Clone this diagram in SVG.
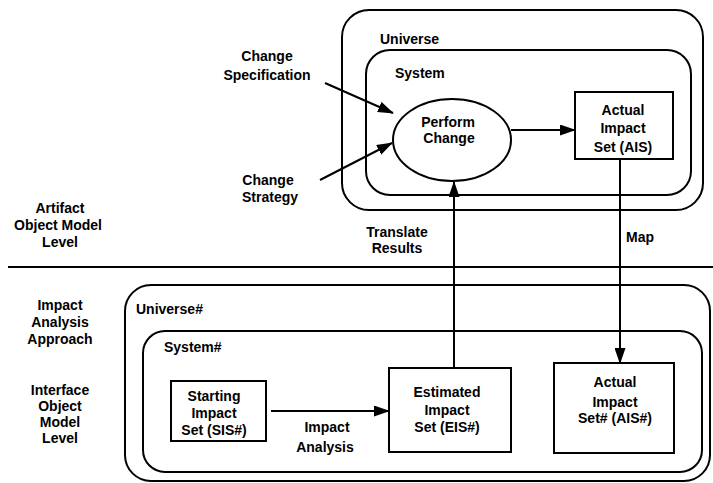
<svg xmlns="http://www.w3.org/2000/svg" width="713" height="483" viewBox="0 0 713 483">
<style>
.t{font-family:"Liberation Sans",Arial,sans-serif;font-weight:bold;font-size:14px;fill:#000;text-anchor:middle}
.l{text-anchor:start}
.b{fill:none;stroke:#000;stroke-width:2}
.c{fill:none;stroke:#000;stroke-width:2}
</style>
<defs>
<marker id="ah" markerUnits="userSpaceOnUse" markerWidth="16" markerHeight="11" refX="15" refY="5.5" orient="auto">
<path d="M0,0 L16,5.5 L0,11 z" fill="#000"/>
</marker>
</defs>
<rect width="713" height="483" fill="#fff"/>
<g id="divider"><line x1="8" y1="267" x2="713" y2="267" stroke="#000" stroke-width="2"/></g>
<g id="level-labels">
<text class="t" x="60" y="213">Artifact</text>
<text class="t" x="58" y="230">Object Model</text>
<text class="t" x="60" y="247">Level</text>
<text class="t" x="60" y="310">Impact</text>
<text class="t" x="60" y="327">Analysis</text>
<text class="t" x="60" y="344">Approach</text>
<text class="t" x="60" y="395">Interface</text>
<text class="t" x="60" y="411">Object</text>
<text class="t" x="60" y="427">Model</text>
<text class="t" x="60" y="443">Level</text>
</g>
<g id="universe">
<rect class="b" x="342" y="10" width="361" height="200" rx="27"/>
<text class="t l" x="380" y="44">Universe</text>
</g>
<g id="system">
<rect class="b" x="366" y="50" width="325" height="145" rx="24"/>
<text class="t l" x="395" y="78">System</text>
</g>
<g id="perform-change">
<ellipse class="b" cx="452" cy="140" rx="59" ry="41"/>
<text class="t" x="448" y="127">Perform</text>
<text class="t" x="449" y="143">Change</text>
</g>
<g id="ais">
<rect class="b" x="575" y="92" width="98" height="67"/>
<text class="t" x="623" y="115">Actual</text>
<text class="t" x="623" y="133">Impact</text>
<text class="t" x="623" y="152">Set (AIS)</text>
</g>
<g id="change-spec">
<text class="t" x="267" y="61">Change</text>
<text class="t" x="267" y="80">Specification</text>
</g>
<g id="change-strategy">
<text class="t" x="268" y="185">Change</text>
<text class="t" x="270" y="202">Strategy</text>
</g>
<g id="universe-hash">
<rect class="b" x="125" y="285" width="585" height="196" rx="26"/>
<text class="t l" x="136" y="314">Universe#</text>
</g>
<g id="system-hash">
<rect class="b" x="143" y="331" width="559" height="141" rx="22"/>
<text class="t l" x="164" y="352">System#</text>
</g>
<g id="sis">
<rect class="b" x="171" y="381" width="95" height="60"/>
<text class="t" x="214" y="401">Starting</text>
<text class="t" x="214" y="418">Impact</text>
<text class="t" x="214" y="435">Set (SIS#)</text>
</g>
<g id="eis">
<rect class="b" x="389" y="368" width="122" height="84"/>
<text class="t" x="447" y="397">Estimated</text>
<text class="t" x="447" y="415">Impact</text>
<text class="t" x="447" y="432">Set (EIS#)</text>
</g>
<g id="ais-hash">
<rect class="b" x="554" y="363" width="120" height="90"/>
<text class="t" x="615" y="387">Actual</text>
<text class="t" x="615" y="407">Impact</text>
<text class="t" x="615" y="423">Set# (AIS#)</text>
</g>
<g id="connectors">
<line class="c" x1="325" y1="83" x2="393" y2="113" marker-end="url(#ah)"/>
<line class="c" x1="320" y1="180" x2="392" y2="143" marker-end="url(#ah)"/>
<line class="c" x1="511" y1="130" x2="575" y2="130" marker-end="url(#ah)"/>
<line class="c" x1="454" y1="368" x2="454" y2="182" marker-end="url(#ah)"/>
<line class="c" x1="620" y1="159" x2="620" y2="363" marker-end="url(#ah)"/>
<line class="c" x1="271" y1="411" x2="389" y2="411" marker-end="url(#ah)"/>
</g>
<g id="connector-labels">
<text class="t" x="397" y="237">Translate</text>
<text class="t" x="397" y="253">Results</text>
<text class="t" x="640" y="242">Map</text>
<text class="t" x="327" y="432">Impact</text>
<text class="t" x="325" y="452">Analysis</text>
</g>
</svg>
